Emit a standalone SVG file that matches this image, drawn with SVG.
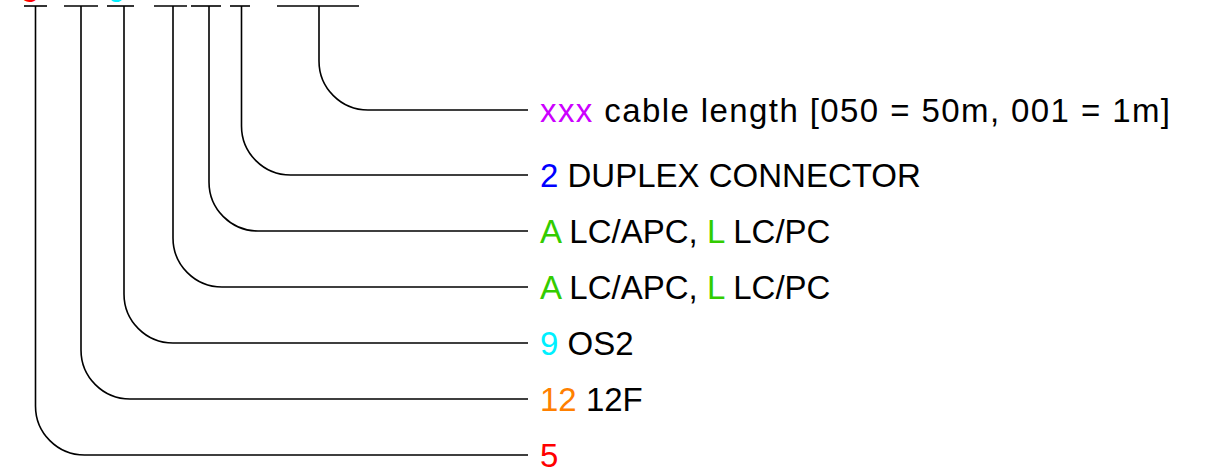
<svg xmlns="http://www.w3.org/2000/svg" width="1208" height="473" viewBox="0 0 1208 473">
  <style>
    .c { fill: none; stroke: #000; stroke-width: 1.6; }
    .t { font-family: "Liberation Sans", Arial, sans-serif; font-size: 33px; fill: #000; }
    .red { fill: #ff0000; }
    .orange { fill: #ff8000; }
    .cyan { fill: #00f0ff; }
    .green { fill: #33cc00; }
    .blue { fill: #0000ff; }
    .mag { fill: #cc00ff; }
  </style>
  <rect width="1208" height="473" fill="#fff"/>

  <g id="code-row">
    <text class="t red" x="30" y="2" text-anchor="middle">5</text>
    <text class="t cyan" x="117" y="2" text-anchor="middle">9</text>
    <g class="c">
      <line x1="24" y1="6" x2="47" y2="6"/>
      <line x1="64" y1="6" x2="98" y2="6"/>
      <line x1="107" y1="6" x2="134" y2="6"/>
      <line x1="154" y1="6" x2="187" y2="6"/>
      <line x1="191" y1="6" x2="221" y2="6"/>
      <line x1="230" y1="6" x2="250" y2="6"/>
      <line x1="277" y1="6" x2="359" y2="6"/>
    </g>
  </g>

  <g id="connectors" class="c">
    <path d="M35.5,6 V406 A49,49 0 0 0 84.5,455 H528"/>
    <path d="M81,6 V350 A49,49 0 0 0 130,399 H528"/>
    <path d="M124,6 V294 A49,49 0 0 0 173,343 H528"/>
    <path d="M173,6 V238 A49,49 0 0 0 222,287 H528"/>
    <path d="M209,6 V182 A49,49 0 0 0 258,231 H528"/>
    <path d="M241.5,6 V126 A49,49 0 0 0 290.5,175 H528"/>
    <path d="M319,6 V61 A49,49 0 0 0 368,110 H528"/>
  </g>

  <g id="label-length">
    <text class="t" x="540" y="122" textLength="630" lengthAdjust="spacing"><tspan class="mag">xxx</tspan> cable length [050 = 50m, 001 = 1m]</text>
  </g>
  <g id="label-connector">
    <text class="t" x="540" y="187"><tspan class="blue">2</tspan> DUPLEX CONNECTOR</text>
  </g>
  <g id="label-end-a">
    <text class="t" x="540" y="243"><tspan class="green">A</tspan> LC/APC, <tspan class="green">L</tspan> LC/PC</text>
  </g>
  <g id="label-end-b">
    <text class="t" x="540" y="299"><tspan class="green">A</tspan> LC/APC, <tspan class="green">L</tspan> LC/PC</text>
  </g>
  <g id="label-fiber">
    <text class="t" x="540" y="355"><tspan class="cyan">9</tspan> OS2</text>
  </g>
  <g id="label-count">
    <text class="t" x="540" y="411"><tspan class="orange">12</tspan> 12F</text>
  </g>
  <g id="label-type">
    <text class="t red" x="540" y="467">5</text>
  </g>
</svg>
